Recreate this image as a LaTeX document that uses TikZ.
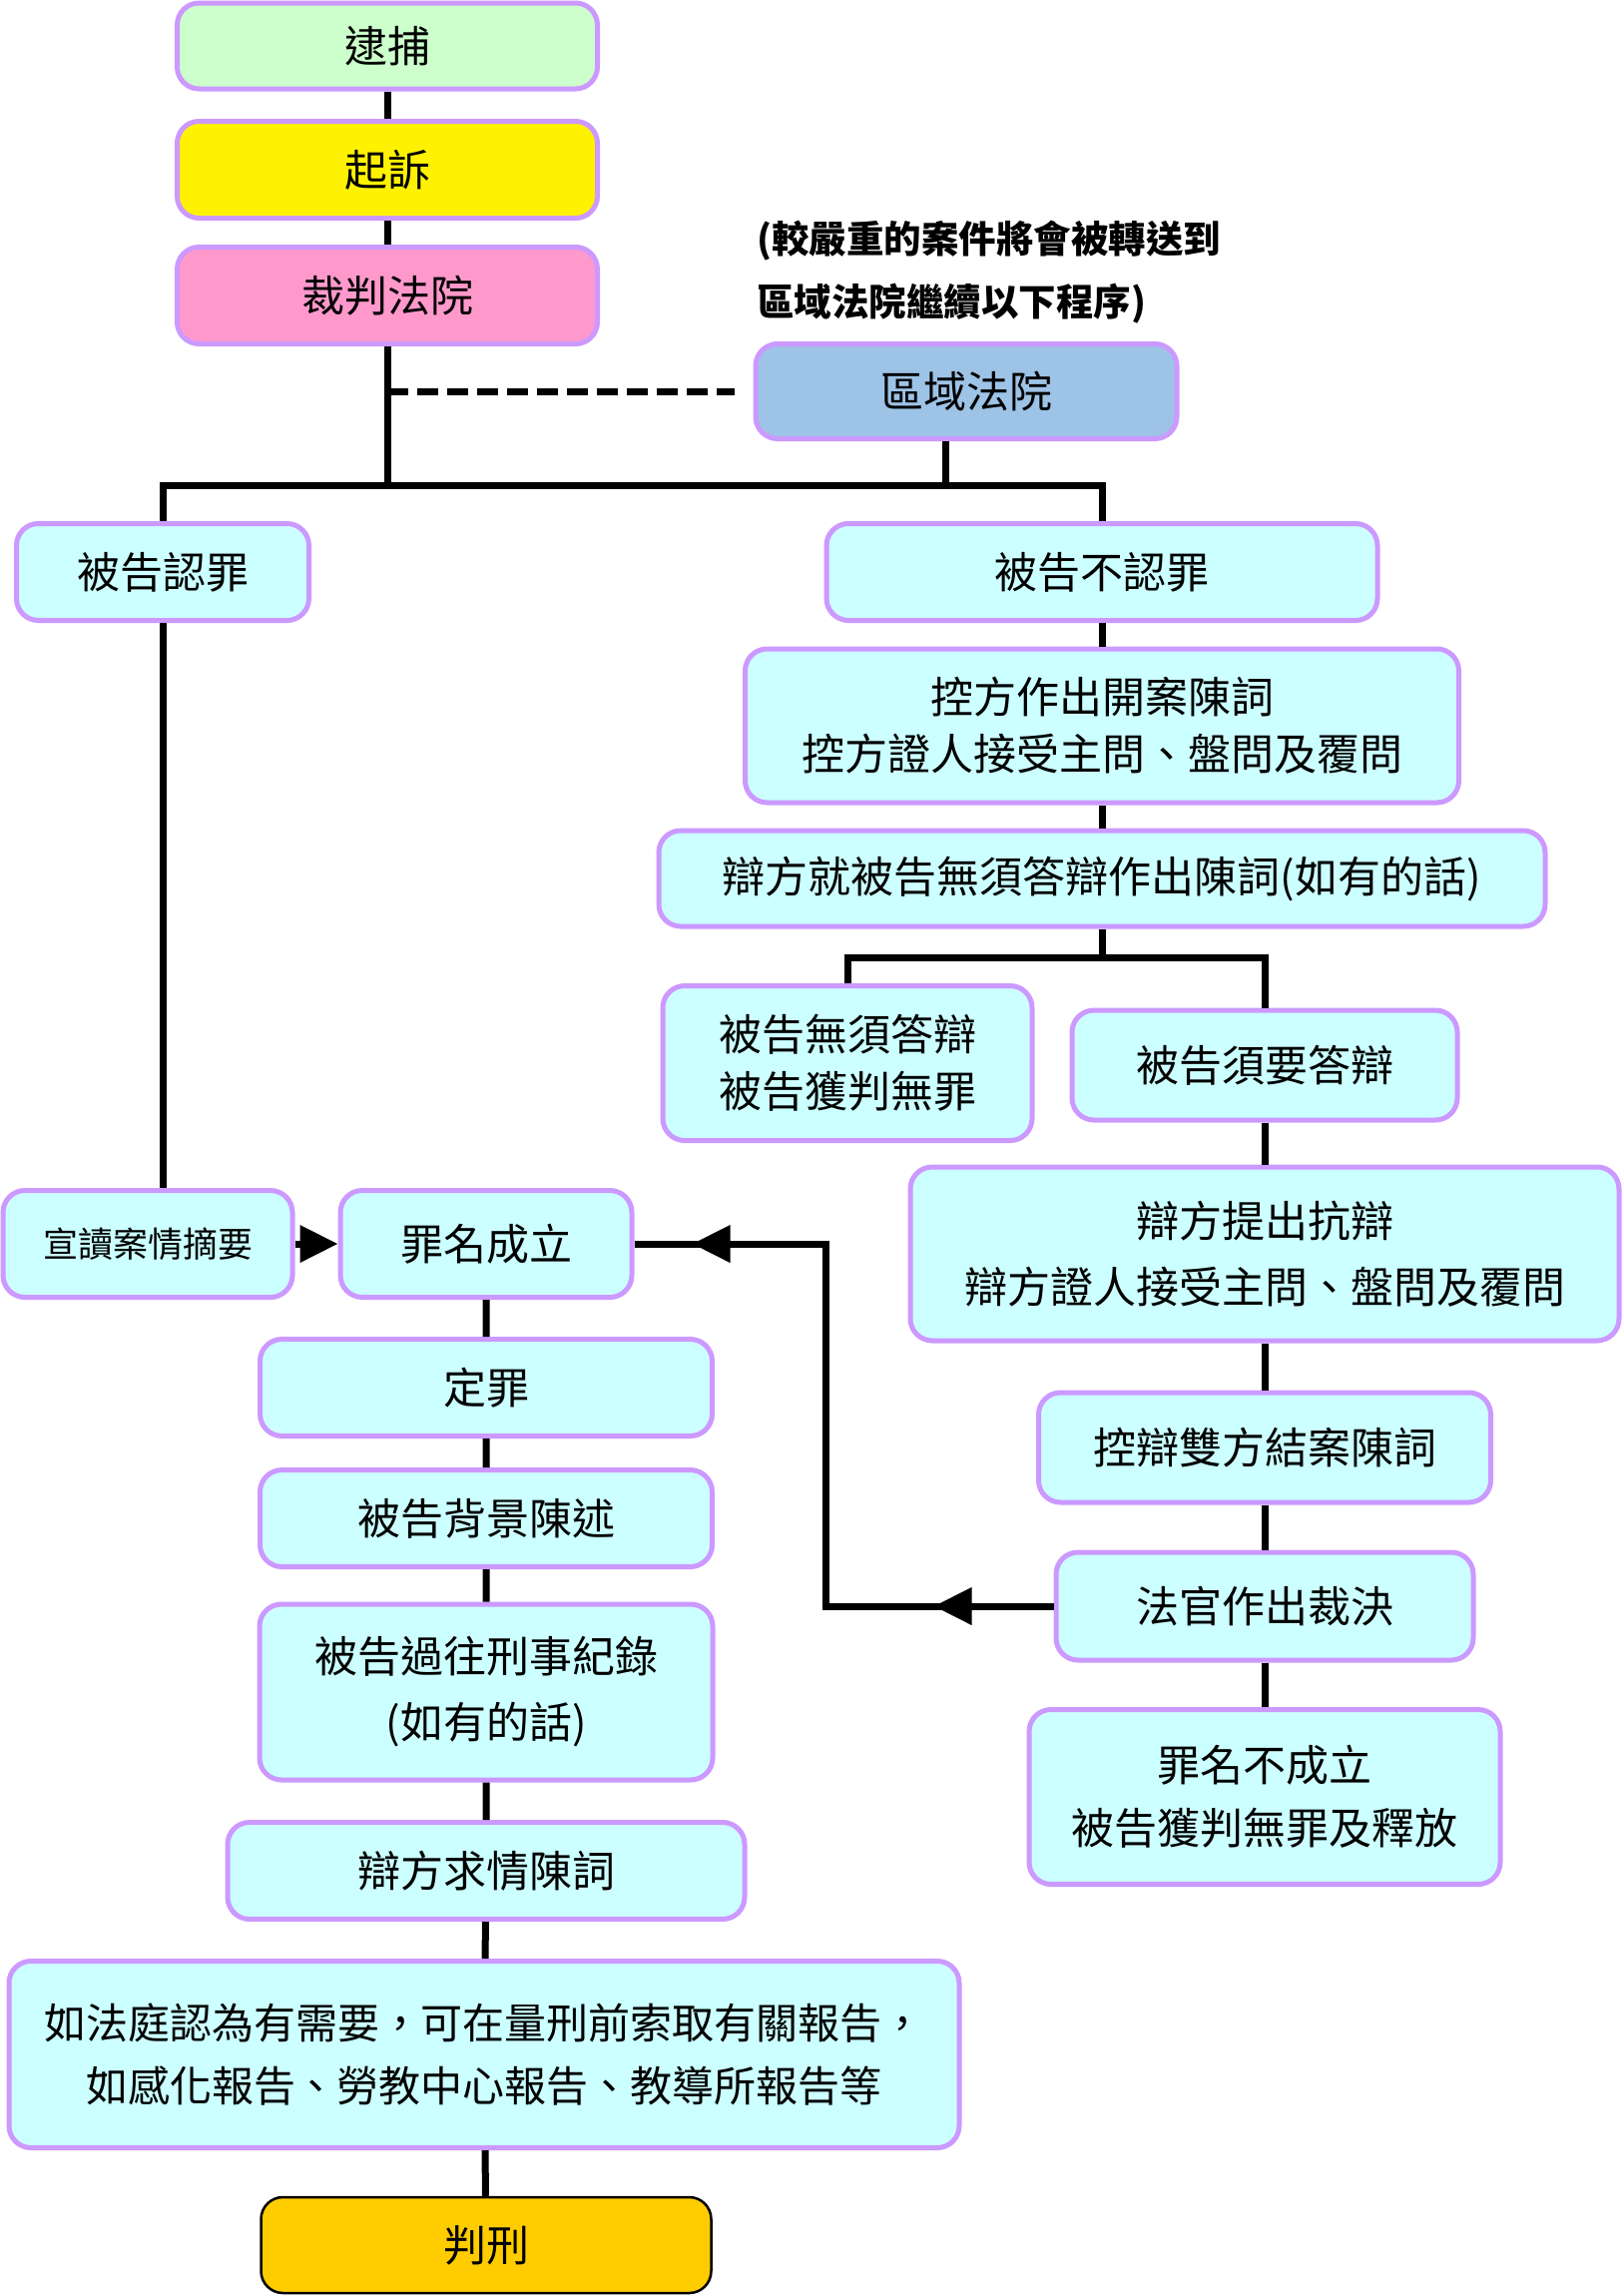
\documentclass[tikz,border=0pt]{standalone}
\usepackage{fontspec}
\setmainfont{Noto Sans CJK TC}
\usetikzlibrary{arrows.meta,positioning,calc,decorations.markings}

\definecolor{lilac}{RGB}{204,153,255}
\definecolor{paleaqua}{RGB}{204,255,255}
\definecolor{palegreen}{RGB}{204,255,204}
\definecolor{pinkbox}{RGB}{255,153,204}
\definecolor{skyblue}{RGB}{157,195,230}
\definecolor{amber}{RGB}{255,204,0}

\tikzset{
  stage/.style 2 args={draw=lilac, line width=5pt, rounded corners=22pt, fill=paleaqua,
    minimum width=#1, minimum height=#2, inner sep=0pt, align=center,
    font=\fontsize{43}{57}\selectfont},
  link/.style={line width=7pt},
  dashlink/.style={line width=7pt, dash pattern=on 21pt off 9pt},
  fwd/.style={-{Triangle[length=38pt,width=36pt]}},
  fbk/.style={postaction={decorate, decoration={markings,
    mark=at position 120pt with {\arrow{Triangle[length=38pt,width=36pt]}},
    mark=at position 725pt with {\arrow{Triangle[length=38pt,width=36pt]}}}}},
  remark/.style={anchor=west, align=left, inner sep=0pt,
    font=\fontsize{37.5}{63}\selectfont\bfseries},
}

\begin{document}
\begin{tikzpicture}[x=1pt, y=-1pt]
    \useasboundingbox (0,0) rectangle (1625,2300);
    % Courts
    \node[stage={421pt}{86pt}, fill=palegreen] (arrest) at (388,46) {逮捕};
    \node[stage={421pt}{97pt}, fill=yellow] (charge) at (388,170) {起訴};
    \node[stage={421pt}{97pt}, fill=pinkbox] (magis) at (388,296) {裁判法院};
    \node[stage={422pt}{95pt}, fill=skyblue] (district) at (968,392) {區域法院};
    \node[remark] (transfer) at (758,273) {(較嚴重的案件將會被轉送到\\區域法院繼續以下程序)};
    % Plea
    \node[stage={293pt}{97pt}] (guilty) at (163,573) {被告認罪};
    \node[stage={552pt}{97pt}] (notguilty) at (1104,573) {被告不認罪};
    % Trial
    \node[stage={715pt}{154pt}] (prosec) at (1104,727) {控方作出開案陳詞\\控方證人接受主問、盤問及覆問};
    \node[stage={888pt}{96pt}] (nocase) at (1104,880) {辯方就被告無須答辯作出陳詞(如有的話)};
    \node[stage={370pt}{155pt}] (noanswer) at (849,1065) {被告無須答辯\\被告獲判無罪};
    \node[stage={386pt}{110pt}] (answer) at (1267,1067) {被告須要答辯};
    \node[stage={710pt}{174pt}] (defence) at (1267,1256) {辯方提出抗辯\\[9pt]辯方證人接受主問、盤問及覆問};
    \node[stage={453pt}{110pt}] (closing) at (1267,1450) {控辯雙方結案陳詞};
    \node[stage={418pt}{108pt}] (verdict) at (1267,1609) {法官作出裁決};
    \node[stage={472pt}{175pt}] (acquit) at (1267,1800) {罪名不成立\\[6pt]被告獲判無罪及釋放};
    % Sentencing
    \node[stage={290pt}{107pt}, font=\fontsize{35}{42}\selectfont] (read) at (148,1246) {宣讀案情摘要};
    \node[stage={292pt}{107pt}] (convict) at (487,1246) {罪名成立};
    \node[stage={453pt}{97pt}] (ruling) at (487,1390) {定罪};
    \node[stage={453pt}{97pt}] (backgr) at (487,1521) {被告背景陳述};
    \node[stage={454pt}{176pt}] (record) at (487,1695) {被告過往刑事紀錄\\[9pt](如有的話)};
    \node[stage={518pt}{97pt}] (plea) at (487,1874) {辯方求情陳詞};
    \node[stage={952pt}{187pt}, font=\fontsize{42}{57}\selectfont] (reports) at (485,2058)
        {如法庭認為有需要，可在量刑前索取有關報告，\\[6pt]如感化報告、勞教中心報告、教導所報告等};
    \node[stage={451pt}{96pt}, fill=amber, draw=black, line width=2.5pt] (sentence) at (487,2249) {判刑};
    % Connectors
    \coordinate (stub) at ([xshift=-21pt]district.south);
    \draw[link] (arrest) -- (charge) -- (magis);
    \draw[link] (magis) -- (magis |- 0,486);
    \draw[dashlink] (magis.south |- district) -- ([xshift=-19pt]district.west);
    \draw[link] (stub) -- (stub |- 0,486);
    \draw[link] (guilty) -- (guilty |- 0,486) -- (notguilty |- 0,486) -- (notguilty);
    \draw[link] (notguilty) -- (prosec) -- (nocase);
    \draw[link] (nocase) -- (nocase |- 0,959);
    \draw[link] (noanswer) -- (noanswer |- 0,959) -- (answer |- 0,959) -- (answer);
    \draw[link] (answer) -- (defence) -- (closing) -- (verdict) -- (acquit);
    \draw[link] (guilty) -- (guilty |- read.north);
    \draw[link, fwd] (read) -- (convict);
    \draw[link, fbk] (verdict.west) -- ++(-228,0) |- (convict.east);
    \draw[link] (convict) -- (ruling) -- (backgr) -- (record) -- (plea) -- (reports) -- (sentence);
\end{tikzpicture}
\end{document}
